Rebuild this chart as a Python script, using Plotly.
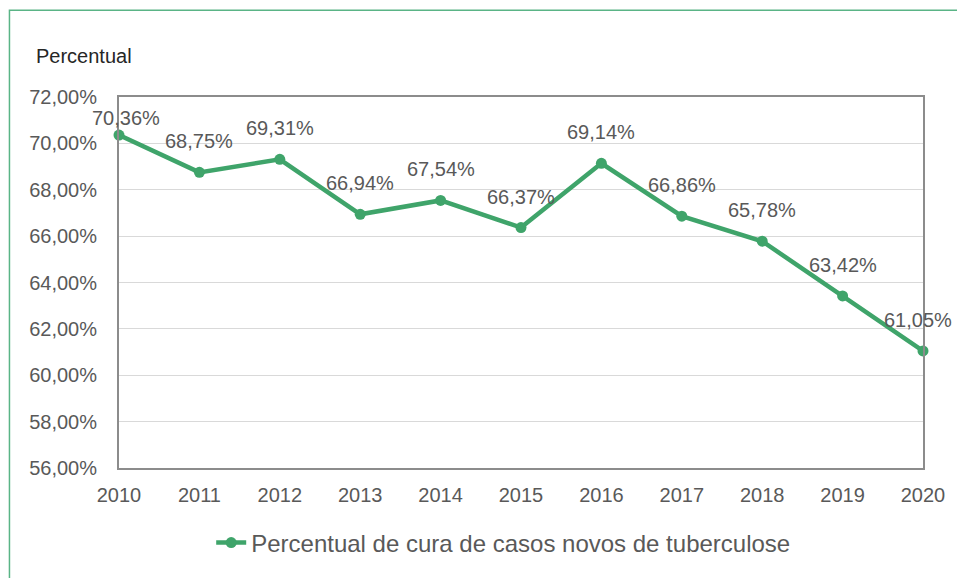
import plotly.graph_objects as go

years = [2010, 2011, 2012, 2013, 2014, 2015, 2016, 2017, 2018, 2019, 2020]
values = [70.36, 68.75, 69.31, 66.94, 67.54, 66.37, 69.14, 66.86, 65.78, 63.42, 61.05]
series_name = "Percentual de cura de casos novos de tuberculose"
y_title = "Percentual"
y_ticks = [56, 58, 60, 62, 64, 66, 68, 70, 72]

GREEN = "#3fa46a"
TEXT = "#595959"
FONT = "Liberation Sans, Arial, sans-serif"


def fmt(v):
    return f"{v:.2f}".replace(".", ",") + "%"


PL, PR, PT, PB = 119, 930, 97, 473
W, H = 957, 578
pw, ph = PR - PL, PB - PT

fig = go.Figure()
fig.add_trace(go.Scatter(
    x=years, y=values, name=series_name, mode="lines+markers",
    line=dict(color=GREEN, width=4.5),
    marker=dict(color=GREEN, size=11),
    cliponaxis=False,
))

annotations = []
n = len(years)
for i, (xv, yv) in enumerate(zip(years, values)):
    xs = 7 if i == 0 else (-5 if i == n - 1 else 0)
    ys = 17 if i == 0 else 31
    annotations.append(dict(
        x=xv, y=yv, xref="x", yref="y", showarrow=False,
        text=fmt(yv), yshift=ys, xshift=xs,
        font=dict(family=FONT, size=20, color=TEXT),
    ))

annotations.append(dict(
    x=(33 - PL) / pw, y=(PB - 55) / ph, xref="paper", yref="paper",
    xanchor="left", yanchor="middle", showarrow=False,
    text=y_title, font=dict(family=FONT, size=20, color="#262626"),
))

fig.update_layout(
    width=W, height=H,
    margin=dict(l=PL, r=W - PR, t=PT, b=H - PB, pad=0),
    paper_bgcolor="white", plot_bgcolor="white",
    font=dict(family=FONT, color=TEXT, size=20),
    showlegend=True,
    legend=dict(
        orientation="h", x=(212 - PL) / pw, xanchor="left",
        y=(PB - 549) / ph, yanchor="middle",
        font=dict(family=FONT, size=24, color=TEXT),
        bgcolor="rgba(0,0,0,0)",
    ),
    annotations=annotations,
    shapes=[dict(
        type="rect", xref="paper", yref="paper",
        x0=(8.5 - PL) / pw, x1=1.2, y0=-0.5, y1=(PB - 9) / ph,
        line=dict(color="#5ab486", width=1.5), layer="below",
    )],
)
fig.update_xaxes(
    range=[2010, 2020], tickmode="array", tickvals=years,
    ticktext=[str(y) for y in years],
    showgrid=False, zeroline=False, showline=True, mirror=True,
    linecolor="#8c8c8c", linewidth=2, ticks="",
    ticklabelstandoff=8,
    tickfont=dict(family=FONT, size=20, color=TEXT),
)
fig.update_yaxes(
    range=[56, 72], tickmode="array", tickvals=y_ticks,
    ticktext=[fmt(v) for v in y_ticks],
    showgrid=True, gridcolor="#d9d9d9", gridwidth=1,
    zeroline=False, showline=True, mirror=True,
    linecolor="#8c8c8c", linewidth=2, ticks="",
    ticklabelstandoff=16,
    tickfont=dict(family=FONT, size=20, color=TEXT),
)

fig.write_html(
    "out.html",
    config={"displayModeBar": False},
    post_script="document.body.style.margin='0';",
)
